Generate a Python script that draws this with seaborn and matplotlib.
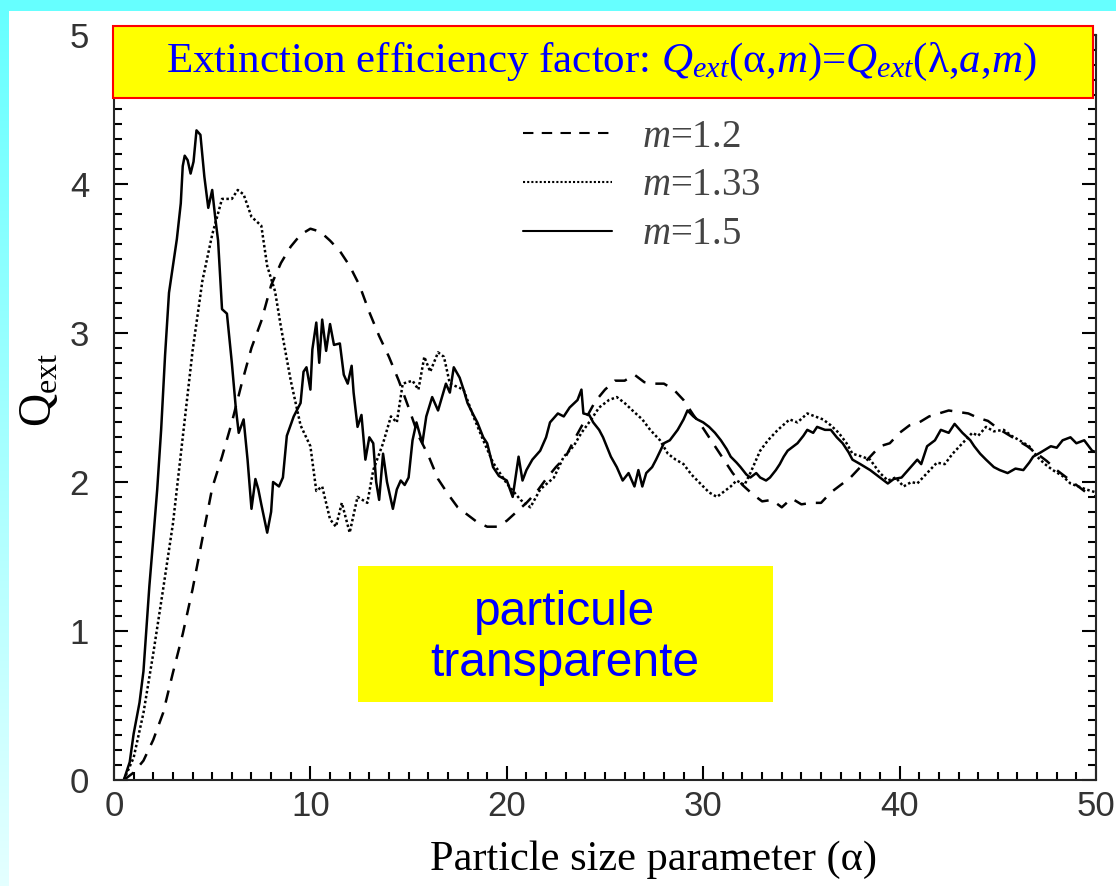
import numpy as np
import pandas as pd
import seaborn as sns
import matplotlib.pyplot as plt
from matplotlib.patches import Rectangle
from matplotlib.ticker import MultipleLocator

# values
alpha_12 = [0.5, 1.0, 1.5, 2.0, 2.5, 3.0, 3.5, 4.0, 4.5, 5.0, 5.5, 6.0, 6.5, 7.0, 7.5, 8.0, 8.5, 9.0, 9.5, 10.0,
            10.5, 11.0, 11.5, 12.0, 12.5, 13.0, 13.5, 14.0, 14.5, 15.0, 15.5, 16.0, 16.5, 17.0, 17.5, 18.0, 18.5, 19.0, 19.5, 20.0,
            20.5, 21.0, 21.5, 22.0, 22.5, 23.0, 23.5, 24.0, 24.5, 25.0, 25.5, 26.0, 26.5, 27.0, 27.5, 28.0, 28.5, 29.0, 29.5, 30.0,
            30.5, 31.0, 31.5, 32.0, 32.5, 33.0, 33.5, 34.0, 34.5, 35.0, 35.5, 36.0, 36.5, 37.0, 37.5, 38.0, 38.5, 39.0, 39.5, 40.0,
            40.5, 41.0, 41.5, 42.0, 42.5, 43.0, 43.5, 44.0, 44.5, 45.0, 45.5, 46.0, 46.5, 47.0, 47.5, 48.0, 48.5, 49.0, 49.5, 50.0]
q_12 = [0.0, 0.05, 0.13, 0.27, 0.45, 0.72, 0.98, 1.28, 1.62, 1.96, 2.17, 2.40, 2.66, 2.90, 3.08, 3.32, 3.47, 3.58, 3.66, 3.70,
        3.68, 3.62, 3.55, 3.45, 3.32, 3.14, 2.98, 2.84, 2.68, 2.50, 2.31, 2.18, 2.02, 1.92, 1.83, 1.78, 1.73, 1.70, 1.70, 1.74,
        1.80, 1.86, 1.93, 2.02, 2.10, 2.17, 2.30, 2.42, 2.54, 2.62, 2.68, 2.68, 2.72, 2.67, 2.66, 2.66, 2.62, 2.55, 2.45, 2.36,
        2.26, 2.16, 2.06, 1.98, 1.92, 1.87, 1.88, 1.83, 1.89, 1.85, 1.86, 1.86, 1.93, 1.98, 2.03, 2.10, 2.17, 2.24, 2.26, 2.33,
        2.38, 2.40, 2.44, 2.46, 2.48, 2.47, 2.46, 2.43, 2.41, 2.36, 2.32, 2.28, 2.24, 2.19, 2.14, 2.08, 2.03, 1.98, 1.93, 1.90]

alpha_133 = [0.5, 1.0, 1.5, 2.0, 2.5, 3.0, 3.5, 4.0, 4.5, 5.0, 5.5, 6.0, 6.3, 6.6, 7.0, 7.5, 7.8, 8.2, 8.5, 9.0,
             9.5, 10.0, 10.3, 10.6, 11.0, 11.3, 11.6, 12.0, 12.4, 12.9, 13.2, 13.7, 14.1, 14.4, 14.7, 15.2, 15.5, 15.8, 16.1, 16.5,
             16.8, 17.1, 17.8, 18.3, 18.8, 19.3, 20.0, 20.7, 21.2, 21.7, 22.4, 22.9, 23.4, 23.8, 24.3, 24.7, 25.2, 25.6, 26.0, 26.4,
             26.9, 27.3, 27.8, 28.2, 28.6, 29.0, 29.4, 29.7, 30.3, 30.7, 31.0, 31.4, 31.7, 32.1, 32.4, 32.9, 33.3, 33.8, 34.4, 34.8,
             35.3, 35.7, 36.1, 36.5, 36.9, 37.3, 37.6, 38.1, 38.5, 39.0, 39.4, 39.8, 40.2, 40.6, 40.9, 41.4, 41.9, 42.3, 42.7, 43.2,
             43.7, 44.0, 44.4, 44.8, 45.3, 45.7, 46.1, 46.6, 47.0, 47.4, 47.8, 48.3, 48.7, 49.1, 49.5, 50.0]
q_133 = [0.0, 0.15, 0.45, 0.85, 1.28, 1.72, 2.30, 2.88, 3.35, 3.66, 3.90, 3.90, 3.96, 3.93, 3.78, 3.72, 3.45, 3.28, 3.04, 2.68,
         2.38, 2.24, 1.94, 1.97, 1.75, 1.70, 1.86, 1.66, 1.90, 1.86, 2.08, 2.26, 2.44, 2.40, 2.66, 2.68, 2.62, 2.84, 2.74, 2.87,
         2.84, 2.66, 2.62, 2.44, 2.28, 2.13, 1.99, 1.88, 1.83, 1.95, 2.03, 2.17, 2.24, 2.33, 2.42, 2.50, 2.55, 2.57, 2.53, 2.48,
         2.42, 2.35, 2.28, 2.19, 2.15, 2.12, 2.05, 2.01, 1.93, 1.90, 1.93, 1.97, 2.01, 1.98, 2.06, 2.21, 2.28, 2.35, 2.42, 2.40,
         2.46, 2.44, 2.42, 2.38, 2.33, 2.26, 2.19, 2.17, 2.15, 2.06, 2.01, 2.03, 1.97, 2.00, 1.99, 2.06, 2.13, 2.12, 2.19, 2.26,
         2.33, 2.31, 2.37, 2.34, 2.35, 2.31, 2.28, 2.24, 2.17, 2.12, 2.08, 2.04, 1.99, 1.97, 1.95, 1.93]

alpha_15 = [0.5, 0.8, 1.0, 1.3, 1.5, 1.8, 2.0, 2.2, 2.4, 2.6, 2.8, 3.0, 3.2, 3.4, 3.5, 3.6, 3.75, 3.9, 4.05, 4.2,
            4.4, 4.6, 4.8, 5.0, 5.15, 5.3, 5.5, 5.75, 6.0, 6.2, 6.35, 6.6, 6.8, 7.0, 7.2, 7.35, 7.5, 7.8, 8.0, 8.1,
            8.4, 8.6, 8.8, 9.15, 9.5, 9.65, 9.8, 10.0, 10.1, 10.3, 10.45, 10.6, 10.8, 11.0, 11.2, 11.5, 11.7, 11.9, 12.1, 12.2,
            12.4, 12.6, 12.8, 13.0, 13.2, 13.35, 13.5, 13.7, 13.9, 14.2, 14.4, 14.6, 14.8, 15.0, 15.2, 15.4, 15.7, 15.9, 16.2, 16.5,
            16.9, 17.1, 17.3, 17.6, 17.8, 18.0, 18.3, 18.5, 18.8, 19.0, 19.3, 19.6, 20.0, 20.3, 20.6, 20.8, 21.0, 21.3, 21.7, 22.0,
            22.2, 22.6, 22.9, 23.2, 23.6, 23.8, 23.9, 24.2, 24.4, 24.7, 24.9, 25.3, 25.6, 25.9, 26.2, 26.5, 26.7, 26.9, 27.1, 27.4,
            27.6, 28.0, 28.3, 28.7, 29.0, 29.2, 29.5, 29.7, 30.0, 30.3, 30.6, 30.9, 31.2, 31.4, 31.7, 31.9, 32.2, 32.4, 32.7, 32.9,
            33.2, 33.4, 33.7, 33.9, 34.1, 34.3, 34.6, 34.8, 35.1, 35.3, 35.6, 35.8, 36.2, 36.5, 36.8, 37.1, 37.4, 37.6, 38.0, 38.5,
            38.9, 39.4, 39.7, 40.1, 40.5, 40.9, 41.1, 41.4, 41.8, 42.1, 42.5, 42.8, 43.2, 43.6, 43.8, 44.1, 44.4, 44.8, 45.1, 45.5,
            45.9, 46.3, 46.6, 46.8, 47.2, 47.7, 48.0, 48.3, 48.7, 49.0, 49.4, 49.8, 50.0]
q_15 = [0.0, 0.12, 0.31, 0.52, 0.73, 1.30, 1.62, 1.95, 2.35, 2.85, 3.27, 3.45, 3.63, 3.87, 4.12, 4.19, 4.16, 4.07, 4.15, 4.36,
        4.33, 4.05, 3.84, 3.96, 3.78, 3.62, 3.16, 3.13, 2.80, 2.50, 2.33, 2.42, 2.15, 1.82, 2.02, 1.95, 1.85, 1.66, 1.80, 2.00,
        1.97, 2.03, 2.31, 2.44, 2.53, 2.74, 2.77, 2.62, 2.89, 3.07, 2.80, 3.09, 2.88, 3.06, 2.92, 2.93, 2.72, 2.66, 2.78, 2.60,
        2.37, 2.45, 2.15, 2.30, 2.26, 2.00, 1.88, 2.19, 2.00, 1.82, 1.95, 2.01, 1.98, 2.03, 2.28, 2.40, 2.26, 2.44, 2.57, 2.48,
        2.66, 2.60, 2.77, 2.70, 2.62, 2.53, 2.45, 2.40, 2.30, 2.26, 2.10, 2.04, 2.01, 1.90, 2.17, 2.01, 2.08, 2.15, 2.21, 2.30,
        2.40, 2.46, 2.44, 2.50, 2.55, 2.62, 2.46, 2.45, 2.40, 2.35, 2.30, 2.17, 2.10, 2.01, 2.06, 1.97, 2.08, 1.97, 2.06, 2.10,
        2.15, 2.26, 2.28, 2.35, 2.42, 2.48, 2.44, 2.42, 2.40, 2.37, 2.33, 2.28, 2.22, 2.17, 2.13, 2.10, 2.05, 2.03, 2.06, 2.03,
        2.01, 2.03, 2.08, 2.12, 2.17, 2.21, 2.24, 2.26, 2.31, 2.35, 2.33, 2.37, 2.35, 2.35, 2.30, 2.26, 2.20, 2.15, 2.12, 2.08,
        2.04, 1.99, 2.02, 2.03, 2.09, 2.15, 2.12, 2.24, 2.28, 2.35, 2.33, 2.39, 2.33, 2.28, 2.24, 2.19, 2.15, 2.10, 2.08, 2.06,
        2.09, 2.08, 2.13, 2.17, 2.20, 2.24, 2.23, 2.28, 2.30, 2.26, 2.28, 2.21, 2.20]

labels = ["$m$=1.2", "$m$=1.33", "$m$=1.5"]

df = pd.concat([
    pd.DataFrame({"alpha": alpha_12, "Q": q_12, "m": labels[0]}),
    pd.DataFrame({"alpha": alpha_133, "Q": q_133, "m": labels[1]}),
    pd.DataFrame({"alpha": alpha_15, "Q": q_15, "m": labels[2]}),
])

sns.set_style("ticks")
plt.rcParams["font.family"] = ["Liberation Sans", "DejaVu Sans"]
plt.rcParams["mathtext.fontset"] = "custom"
plt.rcParams["mathtext.rm"] = "Liberation Serif"
plt.rcParams["mathtext.it"] = "Liberation Serif:italic"

fig = plt.figure(figsize=(11.16, 8.86), dpi=100, facecolor="white")

# cyan frame: top band and left gradient strip
top = fig.add_axes([0, 1 - 11 / 886, 1, 11 / 886])
top.set_facecolor("#66ffff")
top.set_xticks([]); top.set_yticks([])
for s in top.spines.values():
    s.set_visible(False)
left = fig.add_axes([0, 0, 9 / 1116, 1])
grad = np.linspace(0, 1, 256).reshape(-1, 1)
left.imshow(grad, aspect="auto", cmap=sns.blend_palette(["#66ffff", "#e4ffff"], as_cmap=True),
            extent=[0, 1, 0, 1], origin="upper")
left.axis("off")

ax = fig.add_axes([114 / 1116, 106 / 886, 982 / 1116, 745 / 886])
sns.lineplot(data=df, x="alpha", y="Q", style="m", color="black", linewidth=1.8,
             dashes={labels[0]: (5, 4), labels[1]: (1, 1), labels[2]: ""},
             estimator=None, sort=False, ax=ax)

ax.set_xlim(0, 50)
ax.set_ylim(0, 5)
ax.xaxis.set_major_locator(MultipleLocator(10))
ax.xaxis.set_minor_locator(MultipleLocator(1))
ax.yaxis.set_major_locator(MultipleLocator(1))
ax.yaxis.set_minor_locator(MultipleLocator(0.1))
ax.tick_params(which="both", direction="in", top=True, right=True, width=1.5, colors="black")
ax.tick_params(which="major", length=10)
ax.tick_params(which="minor", length=5.5)
ax.tick_params(axis="x", which="major", labelsize=25, labelcolor="#333333", pad=7)
ax.tick_params(axis="y", which="major", labelsize=25, labelcolor="#333333", pad=18)
for s in ax.spines.values():
    s.set_linewidth(1.5)
ax.set_xlabel("")
ax.set_ylabel("")

leg = ax.legend(loc="center left", bbox_to_anchor=(523 / 1116, 1 - 186 / 886),
                bbox_transform=fig.transFigure, frameon=False, fontsize=28,
                handlelength=2.3, handletextpad=0.75, labelspacing=0.3, borderpad=0, borderaxespad=0)
for t in leg.get_texts():
    t.set_color("#444444")
    t.set_family("Liberation Serif")
for h in leg.get_lines():
    h.set_linewidth(1.5)

# title banner
fig.patches.append(Rectangle((113 / 1116, 1 - 98 / 886), 980 / 1116, 72 / 886, transform=fig.transFigure,
                             facecolor="#ffff00", edgecolor="#ff0000", linewidth=1.5, zorder=5))
fig.text(601 / 1116, 1 - 62 / 886,
         r"Extinction efficiency factor: $Q_{ext}$(α,$m$)=$Q_{ext}$(λ,$a$,$m$)",
         ha="center", va="center", fontsize=31, color="#0000ff", family="Liberation Serif", zorder=6)

# note box
fig.patches.append(Rectangle((358 / 1116, 1 - 702 / 886), 415 / 1116, 136 / 886, transform=fig.transFigure,
                             facecolor="#ffff00", edgecolor="none", zorder=5))
fig.text(565 / 1116, 1 - 638 / 886, "particule\ntransparente", ha="center", va="center",
         fontsize=34.5, color="#0000ff", family="Liberation Sans", linespacing=1.15, zorder=6)

fig.text(40 / 1116, 1 - 390 / 886, r"Q$_{\rm ext}$", rotation=90, ha="center", va="center",
         fontsize=33, color="black", family="Liberation Serif")
fig.text(653 / 1116, 1 - 860 / 886, "Particle size parameter (α)", ha="center", va="center",
         fontsize=30.5, color="black", family="Liberation Serif")

fig.savefig("out.png", dpi=100, facecolor="white")
